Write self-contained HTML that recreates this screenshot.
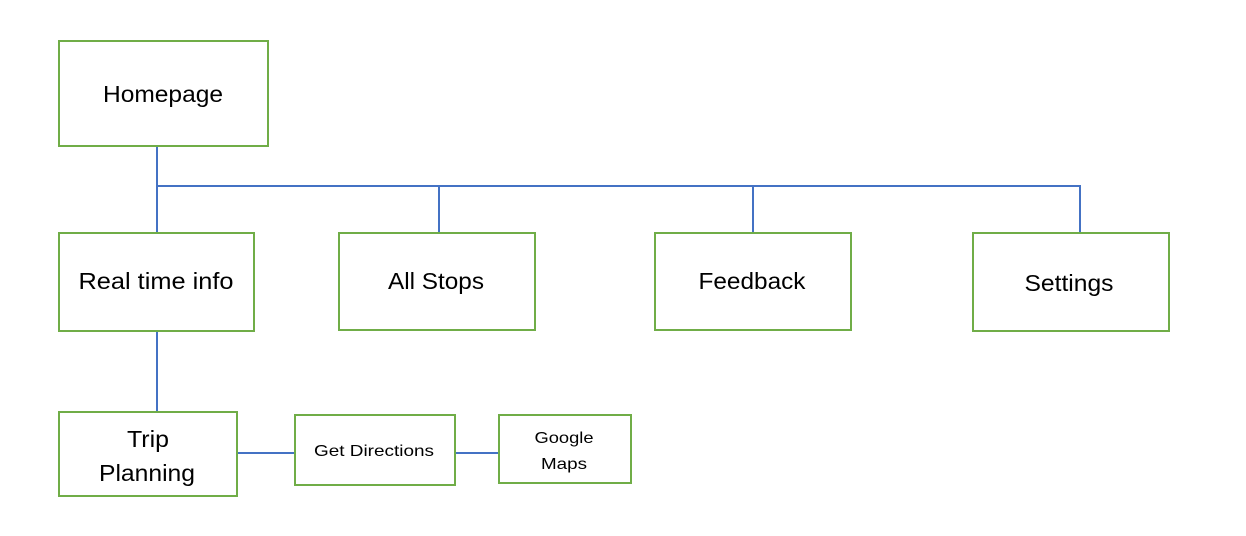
<!DOCTYPE html>
<html><head><meta charset="utf-8"><style>
html,body{margin:0;padding:0;background:#fff;}
svg{display:block;}
text{font-family:"Liberation Sans",sans-serif;fill:#000;text-anchor:middle;}
</style></head><body>
<svg width="1246" height="536" viewBox="0 0 1246 536">
<g stroke="#4472C4" stroke-width="2" fill="none">
<line x1="157" y1="146" x2="157" y2="233"/>
<line x1="156" y1="186" x2="1081" y2="186"/>
<line x1="439" y1="186" x2="439" y2="233"/>
<line x1="753" y1="186" x2="753" y2="233"/>
<line x1="1080" y1="186" x2="1080" y2="233"/>
<line x1="157" y1="331" x2="157" y2="412"/>
<line x1="237" y1="453" x2="295" y2="453"/>
<line x1="455" y1="453" x2="499" y2="453"/>
</g>
<g stroke="#70AD47" stroke-width="2" fill="#fff">
<rect x="59" y="41" width="209" height="105"/>
<rect x="59" y="233" width="195" height="98"/>
<rect x="339" y="233" width="196" height="97"/>
<rect x="655" y="233" width="196" height="97"/>
<rect x="973" y="233" width="196" height="98"/>
<rect x="59" y="412" width="178" height="84"/>
<rect x="295" y="415" width="160" height="70"/>
<rect x="499" y="415" width="132" height="68"/>
</g>
<text x="163" y="102" font-size="23" textLength="120" lengthAdjust="spacingAndGlyphs">Homepage</text>
<text x="156" y="289" font-size="23" textLength="155" lengthAdjust="spacingAndGlyphs">Real time info</text>
<text x="436" y="289" font-size="23" textLength="96" lengthAdjust="spacingAndGlyphs">All Stops</text>
<text x="752" y="289" font-size="23" textLength="107" lengthAdjust="spacingAndGlyphs">Feedback</text>
<text x="1069" y="291" font-size="23" textLength="89" lengthAdjust="spacingAndGlyphs">Settings</text>
<text x="148" y="447" font-size="23" textLength="42" lengthAdjust="spacingAndGlyphs">Trip</text>
<text x="147" y="481" font-size="23" textLength="96" lengthAdjust="spacingAndGlyphs">Planning</text>
<text x="374" y="456" font-size="16" textLength="120" lengthAdjust="spacingAndGlyphs">Get Directions</text>
<text x="564" y="443" font-size="16" textLength="59" lengthAdjust="spacingAndGlyphs">Google</text>
<text x="564" y="469" font-size="16" textLength="46" lengthAdjust="spacingAndGlyphs">Maps</text>
</svg>
</body></html>
